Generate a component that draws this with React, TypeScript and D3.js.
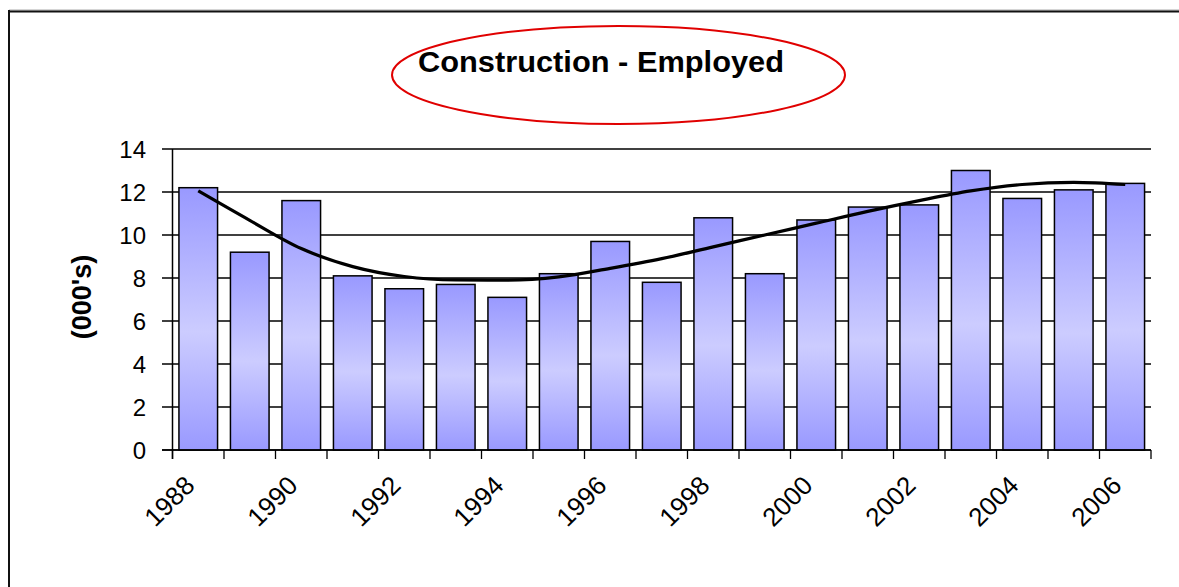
import React from 'react';
import * as d3 from 'd3';

const years = [
  '1988', '1989', '1990', '1991', '1992', '1993', '1994', '1995', '1996', '1997',
  '1998', '1999', '2000', '2001', '2002', '2003', '2004', '2005', '2006',
];
const employed = [
  12.2, 9.2, 11.6, 8.1, 7.5, 7.7, 7.1, 8.2, 9.7, 7.8,
  10.8, 8.2, 10.7, 11.3, 11.4, 13.0, 11.7, 12.1, 12.4,
];
// polynomial trend line
const trend = [
  12.05, 10.68, 9.37, 8.53, 8.07, 7.91, 7.9, 8.05, 8.45, 8.9,
  9.45, 10.0, 10.55, 11.1, 11.6, 12.05, 12.35, 12.45, 12.35,
];
const labelYears = ['1988', '1990', '1992', '1994', '1996', '1998', '2000', '2002', '2004', '2006'];
const yTicks = [0, 2, 4, 6, 8, 10, 12, 14];

const W = 1179;
const H = 587;
const font = "'Liberation Sans', Arial, sans-serif";

export default function App() {
  const left = 172.5;
  const right = 1151;
  const x = d3.scaleBand<string>().domain(years).range([left, right]).paddingInner(0.25).paddingOuter(0.125);
  const y = d3.scaleLinear().domain([0, 14]).range([450, 149]);
  const step = x.step();
  const gap = step * 0.25;
  const boundaries = years.map((yr) => (x(yr) as number) - gap / 2).concat([right]);
  const cx = (yr: string) => (x(yr) as number) + x.bandwidth() / 2;

  const line = d3.line<number>()
    .x((_, i) => cx(years[i]))
    .y((d) => y(d))
    .curve(d3.curveMonotoneX);

  return (
    <svg width={W} height={H} style={{ position: 'absolute', left: 0, top: 0, background: '#fff' }}>
      <defs>
        <linearGradient id="barGrad" x1="0" y1="0" x2="0" y2="1">
          <stop offset="0" stopColor="#9999ff" />
          <stop offset="0.55" stopColor="#ccccff" />
          <stop offset="1" stopColor="#9999ff" />
        </linearGradient>
      </defs>
      <rect x={0} y={0} width={W} height={H} fill="#fff" />
      {/* chart border */}
      <line x1={9} x2={W} y1={10} y2={10} stroke="#aaa" strokeWidth={1} />
      <line x1={9} x2={W} y1={11.5} y2={11.5} stroke="#111" strokeWidth={2} />
      <line x1={9} x2={9} y1={10} y2={H} stroke="#111" strokeWidth={2} />

      {/* title with red ellipse */}
      <ellipse cx={618.5} cy={75} rx={226.5} ry={49} fill="none" stroke="#e00000" strokeWidth={2} />
      <text x={601} y={72} textAnchor="middle" fontFamily={font} fontWeight="bold" fontSize={29}
        textLength={366} lengthAdjust="spacingAndGlyphs" fill="#000">
        Construction - Employed
      </text>

      {/* gridlines and y axis */}
      {yTicks.map((t) => (
        <g key={t}>
          <line x1={162} x2={right} y1={y(t)} y2={y(t)} stroke="#000" strokeWidth={1.3} />
          <text x={146} y={y(t)} dy="0.36em" textAnchor="end" fontFamily={font} fontSize={24} fill="#000">
            {t}
          </text>
        </g>
      ))}
      <line x1={left} x2={left} y1={y(14)} y2={459} stroke="#000" strokeWidth={1.5} />

      <text transform="translate(91,297) rotate(-90)" textAnchor="middle" fontFamily={font} fontWeight="bold"
        fontSize={27} fill="#000">
        (000's)
      </text>

      {/* bars */}
      {years.map((yr, i) => (
        <rect key={yr} x={x(yr)} y={y(employed[i])} width={x.bandwidth()} height={y(0) - y(employed[i])}
          fill="url(#barGrad)" stroke="#000" strokeWidth={1.5} />
      ))}

      {/* x axis */}
      <line x1={162} x2={right} y1={y(0)} y2={y(0)} stroke="#000" strokeWidth={1.5} />
      {boundaries.map((b, i) => (
        <line key={i} x1={b} x2={b} y1={y(0)} y2={459} stroke="#000" strokeWidth={1.3} />
      ))}
      {labelYears.map((yr) => (
        <text key={yr} transform={`translate(${cx(yr) - 2},${487}) rotate(-45)`} textAnchor="end"
          fontFamily={font} fontSize={26} fill="#000">
          {yr}
        </text>
      ))}

      {/* trend line */}
      <path d={line(trend) as string} fill="none" stroke="#000" strokeWidth={3.2} />
    </svg>
  );
}
